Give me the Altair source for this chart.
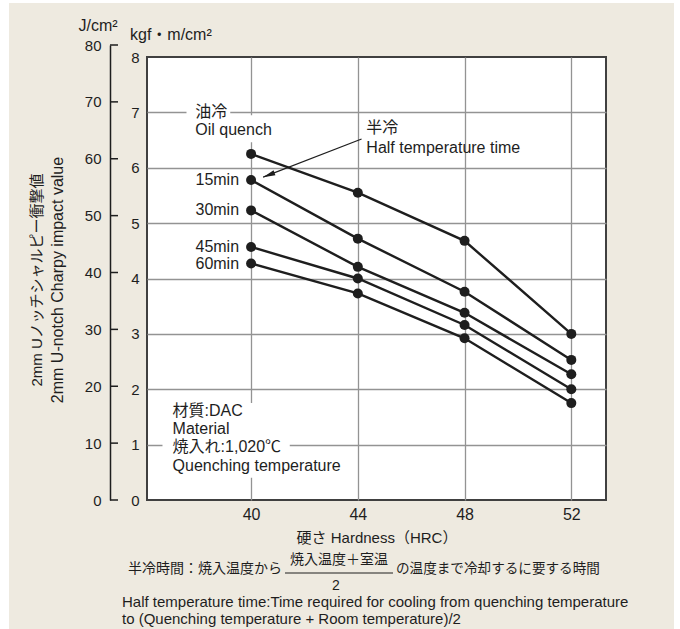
import math
import altair as alt
import pandas as pd

# ---- data (impact value in kgf·m/cm²) ----
hardness = [40, 44, 48, 52]
series_names = ["Oil quench", "15min", "30min", "45min", "60min"]
oil_quench = [6.25, 5.55, 4.68, 3.00]
min15 = [5.78, 4.72, 3.76, 2.53]
min30 = [5.23, 4.21, 3.38, 2.27]
min45 = [4.57, 4.00, 3.16, 2.00]
min60 = [4.27, 3.73, 2.92, 1.75]

kgf_ticks = [0, 1, 2, 3, 4, 5, 6, 7, 8]
joule_ticks = [0, 10, 20, 30, 40, 50, 60, 70, 80]
hrc_ticks = [40, 44, 48, 52]

W, H = 459, 443
X_DOMAIN = [36.1, 53.3]
Y_DOMAIN = [0, 8]
FONT = "Liberation Sans, Noto Sans CJK JP"
INK = "#1e1e1e"
GRID = "#939393"

rows = []
for name, vals in zip(series_names, [oil_quench, min15, min30, min45, min60]):
    for h, v in zip(hardness, vals):
        rows.append({"series": name, "hrc": h, "kgf": v})
df = pd.DataFrame(rows)

xs = alt.Scale(domain=X_DOMAIN, nice=False, zero=False)
ys = alt.Scale(domain=Y_DOMAIN, nice=False, zero=True)

x_axis = alt.Axis(values=hrc_ticks, ticks=False, tickSize=0, domain=False,
                  labelPadding=6, labelFontSize=16, labelColor=INK,
                  title="硬さ Hardness（HRC）", titleFontSize=15,
                  titleFontWeight="normal", titleColor=INK, titlePadding=8,
                  grid=True, gridColor=GRID, gridWidth=1.3)
y_axis = alt.Axis(values=kgf_ticks, ticks=False, tickSize=0, domain=False,
                  labelPadding=8, labelFontSize=15, labelColor=INK, title=None,
                  grid=True, gridColor=GRID, gridWidth=1.3,
                  gridOpacity={"condition": {"test": "datum.value == 0 || datum.value == 8",
                                             "value": 0}, "value": 1})

X = lambda f: alt.X(f, type="quantitative", scale=xs, axis=x_axis)
Y = lambda f: alt.Y(f, type="quantitative", scale=ys, axis=y_axis)


def note(text, x, y, size=14, align="left", angle=0, baseline="middle"):
    kw = dict(text=text, fontSize=size, align=align, baseline=baseline, color=INK)
    if angle:
        kw["angle"] = angle
    return alt.Chart(alt.Data(values=[{}])).mark_text(**kw).encode(
        x=alt.value(x), y=alt.value(y))


def strip(x, x2, y, y2):
    return alt.Chart(alt.Data(values=[{}])).mark_rect(color="white").encode(
        x=alt.value(x), x2=alt.value(x2), y=alt.value(y), y2=alt.value(y2))


# white boxes behind the in-plot annotations
boxes = pd.DataFrame({
    "x": [37.58, 37.73, 36.68],
    "x2": [39.22, 41.08, 41.45],
    "y": [6.86, 6.46, 0.40],
    "y2": [7.15, 6.95, 1.75],
})
box_layer = alt.Chart(boxes).mark_rect(color="white").encode(
    x=X("x"), x2="x2", y=Y("y"), y2="y2")

lines = alt.Chart(df).mark_line(color=INK, strokeWidth=2.4).encode(
    x=X("hrc"), y=Y("kgf"), detail="series:N")
points = alt.Chart(df).mark_circle(color=INK, size=100, opacity=1).encode(
    x=X("hrc"), y=Y("kgf"))

first = df[(df["hrc"] == 40) & (df["series"] != "Oil quench")]
series_labels = alt.Chart(first).mark_text(
    align="right", baseline="middle", dx=-12, fontSize=16, color=INK).encode(
    x=X("hrc"), y=Y("kgf"), text="series:N")

notes = pd.DataFrame({
    "text": ["油冷", "Oil quench", "半冷", "Half temperature time",
             "材質:DAC", "Material", "焼入れ:1,020℃", "Quenching temperature"],
    "x": [37.91, 37.91, 44.32, 44.32, 37.06, 37.06, 37.06, 37.06],
    "y": [7.0, 6.68, 6.71, 6.35, 1.61, 1.28, 0.96, 0.61],
})
note_layer = alt.Chart(notes).mark_text(
    align="left", baseline="middle", fontSize=16, color=INK).encode(
    x=X("x"), y=Y("y"), text="text:N")

# arrow pointing at the 15min curve
arrow = pd.DataFrame({"x": [44.14], "y": [6.52], "x2": [40.45], "y2": [5.83]})
px_x = W / (X_DOMAIN[1] - X_DOMAIN[0])
px_y = H / (Y_DOMAIN[1] - Y_DOMAIN[0])
ddx = (arrow.x2[0] - arrow.x[0]) * px_x
ddy = -(arrow.y2[0] - arrow.y[0]) * px_y
head_angle = (math.degrees(math.atan2(ddx, -ddy)) + 360) % 360
arrow_line = alt.Chart(arrow).mark_rule(color=INK, strokeWidth=1.2).encode(
    x=X("x"), y=Y("y"), x2="x2", y2="y2")
arrow_head = alt.Chart(arrow).mark_point(
    shape="M0,0 L0.42,2 L-0.42,2 Z", filled=True, color=INK, opacity=1,
    size=150, angle=head_angle).encode(x=X("x2"), y=Y("y2"))

# J/cm² scale on the outer left
joule = alt.Chart(pd.DataFrame({"j": joule_ticks})).mark_rule(
    color=INK, strokeWidth=1.5).encode(
    y=alt.Y("j:Q", scale=alt.Scale(domain=[0, 80], range=[H, -12], nice=False),
            axis=alt.Axis(values=joule_ticks, orient="left", offset=37,
                          domain=True, domainColor=INK, domainWidth=1.5,
                          ticks=False, tickSize=0, labelPadding=9,
                          labelFontSize=15, labelColor=INK, title=None,
                          grid=False)),
    x=alt.value(-37), x2=alt.value(-29))

frac_bar = alt.Chart(alt.Data(values=[{}])).mark_rule(color=INK, strokeWidth=1).encode(
    x=alt.value(138), x2=alt.value(246), y=alt.value(516))

main = alt.layer(
    strip(-147, -138, -57, 572),
    strip(-147, 533, -57, -54),
    strip(527, 533, -57, 572),
    box_layer, lines, points, series_labels, note_layer, arrow_line, arrow_head,
    note("J/cm²", -49, -31, size=16, align="center"),
    note("kgf・m/cm²", -17, -22, size=16),
    note("2mm Uノッチシャルピー衝撃値", -110, 223, size=15, align="center", angle=270),
    note("2mm U-notch Charpy impact value", -89, 223, size=16, align="center", angle=270),
    note("半冷時間：焼入温度から", -19, 512, size=14),
    note("焼入温度＋室温", 192, 503, size=14, align="center"),
    frac_bar,
    note("2", 189, 529, size=14, align="center"),
    note("の温度まで冷却するに要する時間", 249, 512, size=13.6),
    note("Half temperature time:Time required for cooling from quenching temperature",
         -25, 545, size=15),
    note("to (Quenching temperature + Room temperature)/2", -25, 562, size=15),
)

chart = alt.layer(main, joule).resolve_scale(y="independent").properties(
    width=W, height=H,
    padding={"left": 147, "top": 57, "right": 74, "bottom": 129},
    autosize=alt.AutoSizeParams(type="none"),
).configure(font=FONT, background="#EEEAE0").configure_view(
    fill="white", stroke="#404040", strokeWidth=2)

chart.save("out.html", embed_options={"renderer": "svg", "actions": False})
